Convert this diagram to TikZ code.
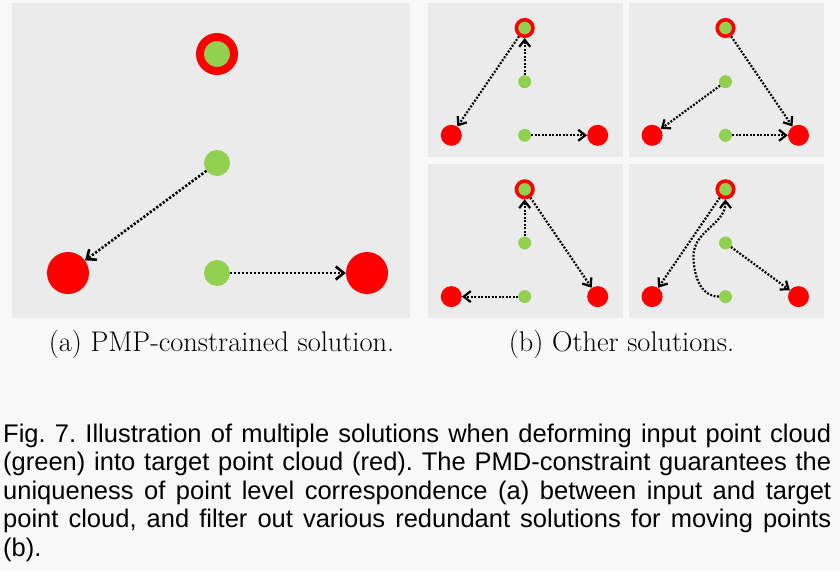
\documentclass[tikz,border=0pt]{standalone}
\usepackage{fontspec}
\usepackage{tikz}
\usetikzlibrary{arrows.meta}
\usetikzlibrary{positioning}
\newfontfamily\capfont{Liberation Sans}
\definecolor{tgtred}{HTML}{FF0000}
\definecolor{srcgreen}{HTML}{92D050}
\definecolor{panelgray}{HTML}{EBEBEB}
\definecolor{pagegray}{HTML}{F8F8F8}
\tikzstyle{src}=[circle,fill=srcgreen,inner sep=0pt,minimum size=26pt]
\tikzstyle{tgt}=[circle,fill=tgtred,inner sep=0pt,minimum size=42pt]
\tikzstyle{both}=[circle,fill=srcgreen,draw=tgtred,line width=8pt,inner sep=0pt,minimum size=34pt]
\tikzstyle{ssrc}=[circle,fill=srcgreen,inner sep=0pt,minimum size=13pt]
\tikzstyle{stgt}=[circle,fill=tgtred,inner sep=0pt,minimum size=21pt]
\tikzstyle{sboth}=[circle,fill=srcgreen,draw=tgtred,line width=3.6pt,inner sep=0pt,minimum size=16.5pt]
\tikzstyle{move}=[line width=2.6pt,dash pattern=on 2.2pt off 1.8pt,-{Straight Barb[length=8pt,width=13pt]}]
\tikzstyle{smove}=[line width=2.2pt,dash pattern=on 1.9pt off 1.6pt,-{Straight Barb[length=7pt,width=11pt]}]
\tikzstyle{panel}=[fill=panelgray]

\begin{document}
\frenchspacing
\begin{tikzpicture}[x=1pt,y=-1pt]
      \fill [pagegray] (0,0) rectangle (840,571);
      \useasboundingbox (0,0) rectangle (840,571);
      % (a) PMP-constrained
      \fill [panel] (12,3) rectangle (410,318);
      \node [both] (ringA) at (217,54) {};
      \node [src] (midA) at (217,163) {};
      \node [src] (lowA) at (217,273) {};
      \node [tgt] (leftA) at (68,273) {};
      \node [tgt] (rightA) at (367,273) {};
      \path [move] (midA) edge (leftA)
                   (lowA) edge (rightA);
      % (b) other solutions
      \foreach \dx/\dy/\n in {0/0/1, 200.8/0/2, 0/161.3/3, 200.8/161.3/4} {
        \begin{scope}[shift={(\dx,\dy)}]
          \fill [panel] (428,3) rectangle (623,157);
          \node [sboth] (ring\n) at (524.7,28) {};
          \node [ssrc] (mid\n) at (524.7,81.7) {};
          \node [ssrc] (low\n) at (524.7,135.3) {};
          \node [stgt] (left\n) at (451.3,135.3) {};
          \node [stgt] (right\n) at (597.7,135.3) {};
        \end{scope}
      }
      \path [smove] (ring1) edge (left1)
                    (mid1) edge (ring1)
                    (low1) edge (right1);
      \path [smove] (ring2) edge (right2)
                    (mid2) edge (left2)
                    (low2) edge (right2);
      \path [smove] (mid3) edge (ring3)
                    (ring3) edge (right3)
                    (low3) edge (left3);
      \coordinate (bend4) at (693.5,256);
      \path [smove] (ring4) edge (left4)
                    (mid4) edge (right4);
      \draw [smove] (low4) to [out=180,in=-90] (bend4) to [out=90,in=-90] (ring4);
      % captions
      \node [anchor=base, font=\fontsize{28.4}{34}\selectfont] (capA) at (221.5,351) {(a) PMP-constrained solution.};
      \node [anchor=base, font=\fontsize{28.4}{34}\selectfont] (capB) at (621.5,351) {(b) Other solutions.};
      \node [anchor=base west, inner sep=0pt, text width=828pt, align=justify,
             font=\capfont\fontsize{25.5}{28.6}\selectfont] (fig) at (3,442)
        {Fig. 7. Illustration of multiple solutions when deforming input point cloud\linebreak
         (green) into target point cloud (red). The PMD-constraint guarantees the\linebreak
         uniqueness of point level correspondence (a) between input and target\linebreak
         point cloud, and filter out various redundant solutions for moving points\linebreak
         (b).};
\end{tikzpicture}
\end{document}
